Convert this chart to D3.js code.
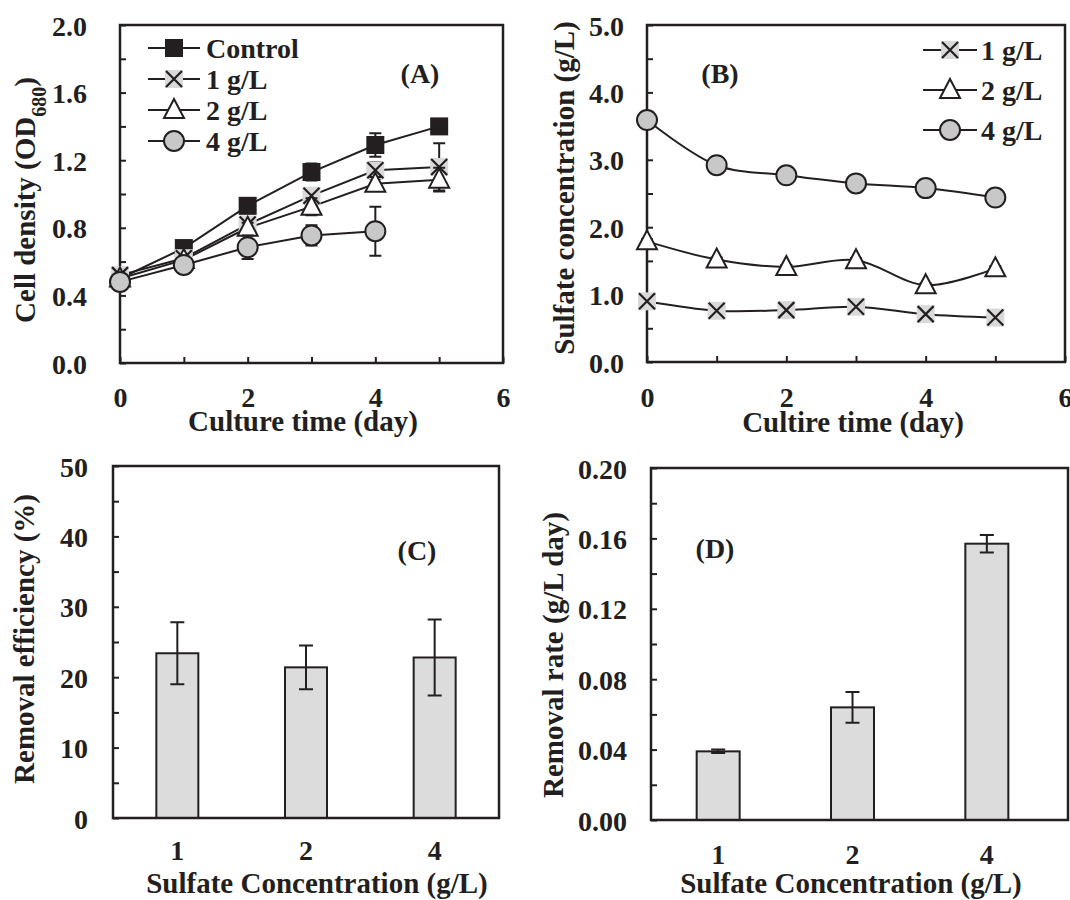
<!DOCTYPE html>
<html>
<head>
<meta charset="utf-8">
<script src="https://cdn.jsdelivr.net/npm/d3@7"></script>
<style>
  html, body { margin: 0; padding: 0; background: #fff; }
  svg text { font-family: "Liberation Serif", "Times New Roman", serif; font-weight: bold; fill: #231f20; }
</style>
</head>
<body>
<svg id="chart" width="1070" height="900"></svg>
<script>
// ---------- DATA ----------
const days = [0, 1, 2, 3, 4, 5];

// Panel A: cell density (OD680)
const odControl    = [0.50, 0.68, 0.93, 1.13, 1.29, 1.40];
const odControlErr = [0.02, 0.02, 0.03, 0.05, 0.07, 0.03];
const od1g         = [0.52, 0.62, 0.82, 0.99, 1.14, 1.16];
const od1gErr      = [0.03, 0.02, 0.04, 0.04, 0.05, 0.14];
const od2g         = [0.50, 0.61, 0.80, 0.925, 1.06, 1.085];
const od2gErr      = [0.02, 0.02, 0.03, 0.05, 0.04, 0.07];
const od4gDays     = [0, 1, 2, 3, 4];
const od4g         = [0.48, 0.58, 0.685, 0.755, 0.78];
const od4gErr      = [0.02, 0.02, 0.07, 0.06, 0.145];

// Panel B: sulfate concentration (g/L)
const so1g    = [0.90, 0.76, 0.77, 0.82, 0.71, 0.66];
const so1gErr = [0.03, 0.03, 0.03, 0.03, 0.03, 0.03];
const so2g    = [1.79, 1.52, 1.41, 1.51, 1.14, 1.39];
const so2gErr = [0.03, 0.03, 0.03, 0.03, 0.03, 0.03];
const so4g    = [3.59, 2.92, 2.77, 2.65, 2.58, 2.44];
const so4gErr = [0.03, 0.04, 0.03, 0.03, 0.12, 0.03];

// Panels C & D
const concCategories = ["1", "2", "4"];
const removalEff     = [23.4, 21.4, 22.8];
const removalEffErr  = [4.4, 3.1, 5.4];
const removalRate    = [0.039, 0.064, 0.157];
const removalRateErr = [0.001, 0.0087, 0.005];

// Tick values / labels
const aYTicks = [0, 0.2, 0.4, 0.6, 0.8, 1.0, 1.2, 1.4, 1.6, 1.8, 2.0];
const aYLabels = [0, 0.4, 0.8, 1.2, 1.6, 2.0];
const bYTicks = [0, 0.5, 1.0, 1.5, 2.0, 2.5, 3.0, 3.5, 4.0, 4.5, 5.0];
const bYLabels = [0, 1, 2, 3, 4, 5];
const dayTicks = [0, 1, 2, 3, 4, 5, 6];
const dayLabels = [0, 2, 4, 6];
const cYTicks = [0, 5, 10, 15, 20, 25, 30, 35, 40, 45, 50];
const cYLabels = [0, 10, 20, 30, 40, 50];
const dYTicks = [0, 0.02, 0.04, 0.06, 0.08, 0.10, 0.12, 0.14, 0.16, 0.18, 0.20];
const dYLabels = [0, 0.04, 0.08, 0.12, 0.16, 0.20];

// ---------- DRAWING ----------
const INK = "#231f20";
const svg = d3.select("#chart");
const FS = 28, TFS = 29;

function inList(list, v) { return list.some(l => Math.abs(l - v) < 1e-9); }

function frame(g, x0, x1, y0, y1) {
  g.append("rect").attr("x", x0).attr("y", y0).attr("width", x1 - x0).attr("height", y1 - y0)
    .attr("fill", "none").attr("stroke", INK).attr("stroke-width", 2.5);
}

function styleAxis(sel) {
  sel.select(".domain").remove();
  sel.selectAll(".tick line").attr("stroke", INK).attr("stroke-width", 2);
  sel.selectAll(".tick text").attr("font-size", FS).attr("fill", INK)
    .style("font-family", "'Liberation Serif', serif").style("font-weight", "bold");
}

function marker(g, type, x, y) {
  if (type === "square") {
    g.append("rect").attr("x", x - 9).attr("y", y - 9).attr("width", 18).attr("height", 18).attr("fill", INK);
  } else if (type === "x") {
    g.append("rect").attr("x", x - 9).attr("y", y - 9).attr("width", 18).attr("height", 18).attr("fill", "#d9d9d9");
    g.append("path").attr("d", `M${x-8},${y-8}L${x+8},${y+8}M${x-8},${y+8}L${x+8},${y-8}`)
      .attr("stroke", INK).attr("stroke-width", 2.2).attr("fill", "none");
  } else if (type === "tri") {
    g.append("path").attr("d", `M${x},${y-11}L${x+10},${y+8}L${x-10},${y+8}Z`)
      .attr("fill", "#fff").attr("stroke", INK).attr("stroke-width", 2);
  } else if (type === "circle") {
    g.append("circle").attr("cx", x).attr("cy", y).attr("r", 10)
      .attr("fill", "#c8c8c8").attr("stroke", INK).attr("stroke-width", 2);
  }
}

function errBar(g, x, yTop, yBot, cap) {
  g.append("path")
    .attr("d", `M${x},${yTop}L${x},${yBot}M${x-cap},${yTop}L${x+cap},${yTop}M${x-cap},${yBot}L${x+cap},${yBot}`)
    .attr("stroke", INK).attr("stroke-width", 2).attr("fill", "none");
}

function yTitle(cx, cy, parts) {
  const t = svg.append("text").attr("transform", `translate(${cx},${cy}) rotate(-90)`)
    .attr("text-anchor", "middle").attr("font-size", TFS);
  parts.forEach(p => {
    const ts = t.append("tspan").text(p.text);
    if (p.sub) ts.attr("font-size", 20).attr("baseline-shift", "sub");
  });
  return t;
}

function linePanel(cfg) {
  const g = svg.append("g");
  const x = d3.scaleLinear().domain([0, 6]).range([cfg.x0, cfg.x1]);
  const y = d3.scaleLinear().domain(cfg.yDomain).range([cfg.y1, cfg.y0]);

  const yAxis = g.append("g").attr("transform", `translate(${cfg.x0},0)`)
    .call(d3.axisLeft(y).tickValues(cfg.yTicks).tickSize(-6).tickPadding(cfg.yPad)
      .tickFormat(v => inList(cfg.yLabels, v) ? d3.format(cfg.yFmt)(v) : ""));
  styleAxis(yAxis);
  yAxis.selectAll(".tick text").attr("dy", "0.36em");

  const xAxis = g.append("g").attr("transform", `translate(0,${cfg.y1})`)
    .call(d3.axisBottom(x).tickValues(dayTicks).tickSize(-6).tickPadding(cfg.xPad)
      .tickFormat(v => inList(dayLabels, v) ? d3.format("d")(v) : ""));
  styleAxis(xAxis);

  frame(g, cfg.x0, cfg.x1, cfg.y0, cfg.y1);

  const line = d3.line().x(d => x(d[0])).y(d => y(d[1])).curve(cfg.curve);
  cfg.series.forEach(s => {
    const pts = s.x.map((d, i) => [d, s.y[i], s.e[i]]);
    g.append("path").datum(pts).attr("d", line).attr("fill", "none")
      .attr("stroke", INK).attr("stroke-width", 2);
  });
  cfg.series.forEach(s => {
    const eg = g.append("g");
    s.x.forEach((d, i) => {
      if (s.e[i] > 0.005 * (cfg.yDomain[1])) errBar(eg, x(d), y(s.y[i] + s.e[i]), y(s.y[i] - s.e[i]), 6);
    });
    s.x.forEach((d, i) => marker(eg, s.marker, x(d), y(s.y[i])));
  });

  // legend
  cfg.legend.items.forEach((it, i) => {
    const ly = cfg.legend.y0 + i * cfg.legend.dy;
    g.append("line").attr("x1", cfg.legend.lx0).attr("x2", cfg.legend.lx1).attr("y1", ly).attr("y2", ly)
      .attr("stroke", INK).attr("stroke-width", 2);
    marker(g, it.marker, (cfg.legend.lx0 + cfg.legend.lx1) / 2, ly);
    g.append("text").attr("x", cfg.legend.tx).attr("y", ly).attr("dy", "0.35em")
      .attr("font-size", FS).text(it.label);
  });

  g.append("text").attr("x", cfg.tag[0]).attr("y", cfg.tag[1]).attr("dy", "0.35em")
    .attr("text-anchor", "middle").attr("font-size", FS).text(cfg.tagText);

  svg.append("text").attr("x", cfg.xt[0]).attr("y", cfg.xt[1]).attr("text-anchor", "middle")
    .attr("font-size", TFS).text(cfg.xTitle);
}

function barPanel(cfg) {
  const g = svg.append("g");
  const x = d3.scaleBand().domain(concCategories).range([cfg.x0, cfg.bandEnd]).padding(0);
  const y = d3.scaleLinear().domain(cfg.yDomain).range([cfg.y1, cfg.y0]);

  const yAxis = g.append("g").attr("transform", `translate(${cfg.x0},0)`)
    .call(d3.axisLeft(y).tickValues(cfg.yTicks).tickSize(-6).tickPadding(cfg.yPad)
      .tickFormat(v => inList(cfg.yLabels, v) ? d3.format(cfg.yFmt)(v) : ""));
  styleAxis(yAxis);
  yAxis.selectAll(".tick text").attr("dy", "0.36em");

  const xAxis = g.append("g").attr("transform", `translate(0,${cfg.y1})`)
    .call(d3.axisBottom(x).tickSize(0).tickPadding(cfg.xPad));
  styleAxis(xAxis);

  const bw = cfg.barW;
  concCategories.forEach((c, i) => {
    const cx = x(c) + x.bandwidth() / 2;
    g.append("rect").attr("x", cx - bw / 2).attr("y", y(cfg.values[i]))
      .attr("width", bw).attr("height", y(0) - y(cfg.values[i]))
      .attr("fill", "#dcdcdd").attr("stroke", INK).attr("stroke-width", 2);
  });
  concCategories.forEach((c, i) => {
    const cx = x(c) + x.bandwidth() / 2;
    errBar(g, cx, y(cfg.values[i] + cfg.errs[i]), y(cfg.values[i] - cfg.errs[i]), 7);
  });

  frame(g, cfg.x0, cfg.x1, cfg.y0, cfg.y1);

  g.append("text").attr("x", cfg.tag[0]).attr("y", cfg.tag[1]).attr("dy", "0.35em")
    .attr("text-anchor", "middle").attr("font-size", FS).text(cfg.tagText);

  svg.append("text").attr("x", cfg.xt[0]).attr("y", cfg.xt[1]).attr("text-anchor", "middle")
    .attr("font-size", TFS).text("Sulfate Concentration (g/L)");
}

// Panel A
linePanel({
  x0: 120, x1: 503, y0: 25, y1: 363, yDomain: [0, 2],
  yTicks: aYTicks, yLabels: aYLabels, yFmt: ".1f", yPad: 33, xPad: 24,
  curve: d3.curveLinear,
  series: [
    { x: days, y: odControl, e: odControlErr, marker: "square" },
    { x: days, y: od1g, e: od1gErr, marker: "x" },
    { x: days, y: od2g, e: od2gErr, marker: "tri" },
    { x: od4gDays, y: od4g, e: od4gErr, marker: "circle" }
  ],
  legend: { y0: 48, dy: 31, lx0: 148, lx1: 200, tx: 206,
    items: [
      { marker: "square", label: "Control" },
      { marker: "x", label: "1 g/L" },
      { marker: "tri", label: "2 g/L" },
      { marker: "circle", label: "4 g/L" }
    ] },
  tag: [420, 73], tagText: "(A)",
  xt: [303, 431], xTitle: "Culture time (day)"
});
yTitle(35, 200, [{ text: "Cell density (OD" }, { text: "680", sub: true }, { text: ")" }]);

// Panel B
linePanel({
  x0: 647, x1: 1065, y0: 25, y1: 362, yDomain: [0, 5],
  yTicks: bYTicks, yLabels: bYLabels, yFmt: ".1f", yPad: 23, xPad: 25,
  curve: d3.curveCatmullRom.alpha(0.5),
  series: [
    { x: days, y: so1g, e: so1gErr, marker: "x" },
    { x: days, y: so2g, e: so2gErr, marker: "tri" },
    { x: days, y: so4g, e: so4gErr, marker: "circle" }
  ],
  legend: { y0: 50, dy: 40, lx0: 923, lx1: 977, tx: 981,
    items: [
      { marker: "x", label: "1 g/L" },
      { marker: "tri", label: "2 g/L" },
      { marker: "circle", label: "4 g/L" }
    ] },
  tag: [720, 73], tagText: "(B)",
  xt: [853, 432], xTitle: "Cultire time (day)"
});
yTitle(574, 188, [{ text: "Sulfate concentration (g/L)" }]);

// Panel C
barPanel({
  x0: 113, x1: 499, bandEnd: 499, y0: 466, y1: 818, yDomain: [0, 50],
  yTicks: cYTicks, yLabels: cYLabels, yFmt: "d", yPad: 25, xPad: 22,
  values: removalEff, errs: removalEffErr, barW: 42,
  tag: [417, 550], tagText: "(C)",
  xt: [317, 893]
});
yTitle(34, 639, [{ text: "Removal efficiency (%)" }]);

// Panel D
barPanel({
  x0: 651, x1: 1068, bandEnd: 1054, y0: 468, y1: 820, yDomain: [0, 0.2],
  yTicks: dYTicks, yLabels: dYLabels, yFmt: ".2f", yPad: 24, xPad: 24,
  values: removalRate, errs: removalRateErr, barW: 43,
  tag: [715, 548], tagText: "(D)",
  xt: [851, 893]
});
yTitle(563, 655, [{ text: "Removal rate (g/L day)" }]);
</script>
</body>
</html>
